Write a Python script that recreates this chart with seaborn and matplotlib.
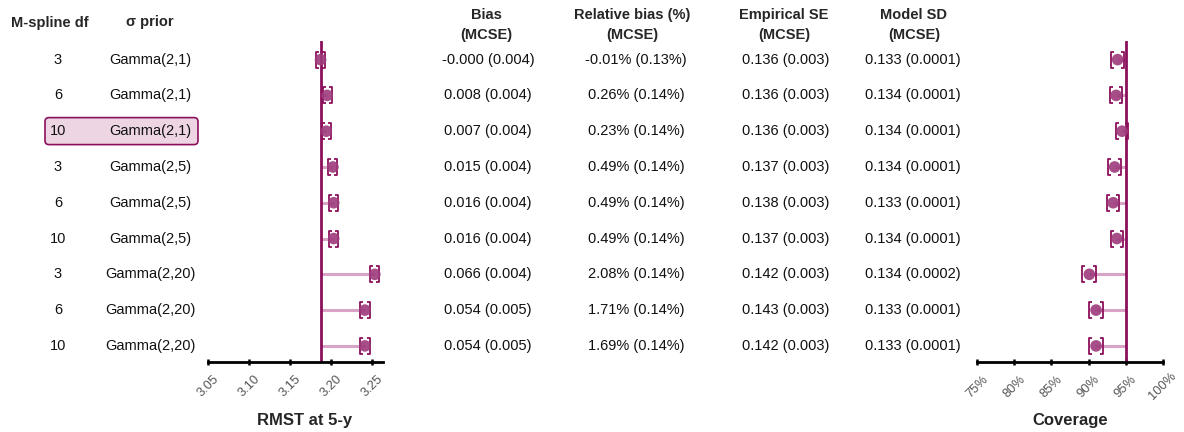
import numpy as np
import matplotlib
matplotlib.use("Agg")
import matplotlib.pyplot as plt
import matplotlib.transforms as mtransforms
from matplotlib.patches import FancyBboxPatch
from matplotlib.path import Path
import seaborn as sns

# Simulation results
spline_df = ["3", "6", "10", "3", "6", "10", "3", "6", "10"]
sigma_prior = ["Gamma(2,1)", "Gamma(2,1)", "Gamma(2,1)",
               "Gamma(2,5)", "Gamma(2,5)", "Gamma(2,5)",
               "Gamma(2,20)", "Gamma(2,20)", "Gamma(2,20)"]
bias = [-0.000, 0.008, 0.007, 0.015, 0.016, 0.016, 0.066, 0.054, 0.054]
bias_txt = ["-0.000 (0.004)", "0.008 (0.004)", "0.007 (0.004)", "0.015 (0.004)",
            "0.016 (0.004)", "0.016 (0.004)", "0.066 (0.004)", "0.054 (0.005)",
            "0.054 (0.005)"]
relbias_txt = ["-0.01% (0.13%)", "0.26% (0.14%)", "0.23% (0.14%)", "0.49% (0.14%)",
               "0.49% (0.14%)", "0.49% (0.14%)", "2.08% (0.14%)", "1.71% (0.14%)",
               "1.69% (0.14%)"]
empse_txt = ["0.136 (0.003)", "0.136 (0.003)", "0.136 (0.003)", "0.137 (0.003)",
             "0.138 (0.003)", "0.137 (0.003)", "0.142 (0.003)", "0.143 (0.003)",
             "0.142 (0.003)"]
modelsd_txt = ["0.133 (0.0001)", "0.134 (0.0001)", "0.134 (0.0001)", "0.134 (0.0001)",
               "0.133 (0.0001)", "0.134 (0.0001)", "0.134 (0.0002)", "0.133 (0.0001)",
               "0.133 (0.0001)"]
true_rmst = 3.187
rmst_ci_half = [0.005, 0.0055, 0.0055, 0.0055, 0.0055, 0.0055, 0.0057, 0.0057, 0.0057]
coverage = [93.9, 93.7, 94.5, 93.5, 93.3, 93.8, 90.1, 91.0, 91.0]
coverage_ci_half = [0.85, 0.85, 0.8, 0.85, 0.85, 0.85, 0.95, 0.95, 0.95]
nominal_cov = 95
highlight_row = 2

rmst_est = [true_rmst + b for b in bias]
rows = np.arange(len(bias))

sns.set_style("white")
plt.rcParams['font.family'] = ['Liberation Sans', 'DejaVu Sans']

dark = "#8C0F5C"
pt_col = "#9E3B7C"
seg_col = "#D9A3C5"

# bracket shaped markers for the interval ends
left_br = Path([(0.35, 1), (0, 1), (0, -1), (0.35, -1)],
               [Path.MOVETO, Path.LINETO, Path.LINETO, Path.LINETO])
right_br = Path([(-0.35, 1), (0, 1), (0, -1), (-0.35, -1)],
                [Path.MOVETO, Path.LINETO, Path.LINETO, Path.LINETO])

W, H = 1184, 432
fig = plt.figure(figsize=(W / 100, H / 100), dpi=100)

def add_ax(x0, x1, y0, y1):
    return fig.add_axes([x0 / W, 1 - y1 / H, (x1 - x0) / W, (y1 - y0) / H])

ax1 = add_ax(208, 383, 41, 362)
ax2 = add_ax(977, 1163, 41, 362)

def forest(ax, est, ref, half, xlim, ticks, ticklabels):
    lo = [e - h for e, h in zip(est, half)]
    hi = [e + h for e, h in zip(est, half)]
    ax.hlines(rows, ref, est, color=seg_col, lw=2.2, zorder=1)
    ax.axvline(ref, color=dark, lw=2, zorder=2)
    ax.plot(lo, rows, ls="none", marker=left_br, ms=11, mfc="none", mec=dark,
            mew=1.3, zorder=3)
    ax.plot(hi, rows, ls="none", marker=right_br, ms=11, mfc="none", mec=dark,
            mew=1.3, zorder=3)
    sns.scatterplot(x=est, y=rows, ax=ax, color=pt_col, s=70, alpha=0.9,
                    edgecolor="none", zorder=4, legend=False)
    ax.set_xlim(*xlim)
    ax.set_ylim(8.45, -0.52)
    ax.set_yticks([])
    ax.set_xticks(ticks)
    ax.set_xticklabels(ticklabels, rotation=45, ha="center", va="center",
                       rotation_mode="anchor", color="#555555", fontsize=9.3)
    ax.tick_params(axis="x", length=5, width=1.8, color="black", pad=15,
                   direction="inout", bottom=True)
    for s in ["top", "right", "left"]:
        ax.spines[s].set_visible(False)
    ax.spines["bottom"].set_linewidth(2)
    ax.spines["bottom"].set_color("black")
    ax.patch.set_alpha(0)
    ax.set_xlabel("")
    ax.set_ylabel("")

forest(ax1, rmst_est, true_rmst, rmst_ci_half, (3.05, 3.263),
       [3.05, 3.10, 3.15, 3.20, 3.25], ["3.05", "3.10", "3.15", "3.20", "3.25"])
forest(ax2, coverage, nominal_cov, coverage_ci_half, (75, 100),
       [75, 80, 85, 90, 95, 100], ["75%", "80%", "85%", "90%", "95%", "100%"])

fig.text(305 / W, 1 - 420 / H, "RMST at 5-y", ha="center", va="center",
         fontsize=12, fontweight="bold")
fig.text(1070 / W, 1 - 420 / H, "Coverage", ha="center", va="center",
         fontsize=12, fontweight="bold")

# table text, rows aligned with ax1 data coordinates
trans = mtransforms.blended_transform_factory(fig.transFigure, ax1.transData)
cols = [(58, spline_df), (150, sigma_prior), (488, bias_txt), (636, relbias_txt),
        (786, empse_txt), (913, modelsd_txt)]
for cx, vals in cols:
    for r, v in zip(rows, vals):
        fig.text(cx / W, r, v, transform=trans, ha="center", va="center",
                 fontsize=10.5, color="#111111")

hdr = dict(ha="center", va="center", fontsize=10.5, fontweight="bold")
fig.text(50 / W, 1 - 23 / H, "M-spline df", **hdr)
fig.text(150 / W, 1 - 22 / H, "σ prior", **hdr)
for cx, line1 in [(486, "Bias"), (632, "Relative bias (%)"),
                  (784, "Empirical SE"), (914, "Model SD")]:
    fig.text(cx / W, 1 - 15 / H, line1, **hdr)
    fig.text(cx / W, 1 - 35 / H, "(MCSE)", **hdr)

# highlighted row (pixel coordinates, origin bottom-left)
hy = 59.5 + 35.8 * highlight_row
box = FancyBboxPatch((45, H - (hy + 13.5)), 153, 27,
                     boxstyle="round,pad=0,rounding_size=4",
                     transform=mtransforms.IdentityTransform(),
                     facecolor="#EDD5E3", edgecolor=dark, lw=1.2, zorder=0)
fig.patches.append(box)

fig.savefig("out.png", dpi=100)
